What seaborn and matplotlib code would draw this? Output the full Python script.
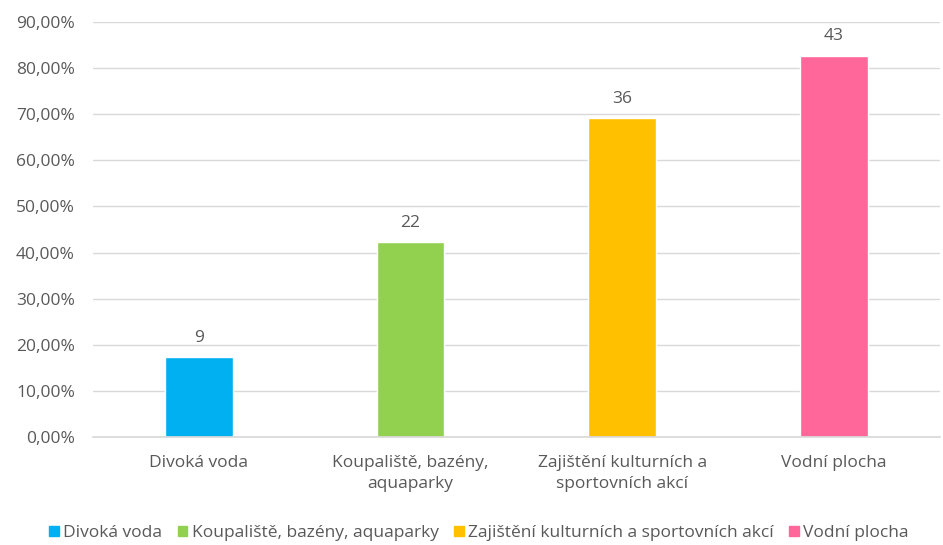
import matplotlib
matplotlib.use("Agg")
import matplotlib.pyplot as plt
import seaborn as sns
import pandas as pd
from matplotlib.patches import Patch
from matplotlib.ticker import FuncFormatter

categories = ["Divoká voda", "Koupaliště, bazény, aquaparky",
              "Zajištění kulturních a sportovních akcí", "Vodní plocha"]
tick_labels = ["Divoká voda", "Koupaliště, bazény,\naquaparky",
               "Zajištění kulturních a\nsportovních akcí", "Vodní plocha"]
percent = [17.31, 42.31, 69.23, 82.69]
counts = [9, 22, 36, 43]
colors = ["#00B0F0", "#92D050", "#FFC000", "#FF6699"]

sns.set_theme(style="white")
plt.rcParams['font.family'] = ['Open Sans', 'DejaVu Sans']
txt = "#595959"
fs = 12.5

df = pd.DataFrame({"cat": categories, "pct": percent})
fig = plt.figure(figsize=(9.43, 5.45), dpi=100)
ax = fig.add_axes([0.0986, 0.198, 0.898, 0.762])
sns.barplot(data=df, x="cat", y="pct", hue="cat", palette=colors,
            width=0.32, legend=False, ax=ax, saturation=1)
ax.set_ylim(0, 90)
ax.set_yticks(range(0, 91, 10))
ax.yaxis.set_major_formatter(FuncFormatter(lambda v, p: f"{v:.2f}".replace(".", ",") + "%"))
ax.set_xticks(range(4))
ax.set_xticklabels(tick_labels, color=txt, fontsize=fs, linespacing=1.4)
ax.tick_params(axis='y', colors=txt, labelsize=fs, length=0, pad=13)
ax.tick_params(axis='x', length=0, pad=13)
ax.set_xlabel("")
ax.set_ylabel("")
ax.grid(axis='y', color="#D9D9D9", linewidth=1)
ax.set_axisbelow(True)
for s in ["top", "right", "left"]:
    ax.spines[s].set_visible(False)
ax.spines["bottom"].set_color("#D9D9D9")
for cont, n in zip(ax.containers, counts):
    ax.bar_label(cont, labels=[str(n)], padding=8, color=txt, fontsize=fs)

handles = [Patch(color=c, label=l) for c, l in zip(colors, categories)]
fig.legend(handles=handles, loc="center", bbox_to_anchor=(0.508, 0.022), ncol=4,
           frameon=False, fontsize=fs, handlelength=0.55, handleheight=0.55,
           handletextpad=0.25, columnspacing=0.9, labelcolor=txt)

fig.savefig("out.png", dpi=100)
